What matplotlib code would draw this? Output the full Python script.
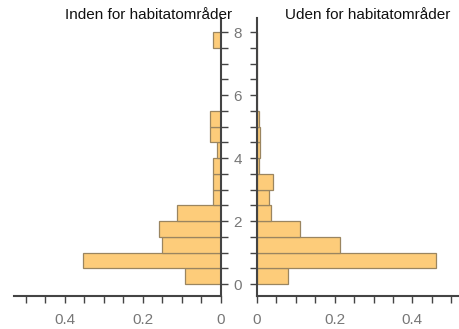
import numpy as np
import matplotlib
matplotlib.use('Agg')
import matplotlib.pyplot as plt
from matplotlib.ticker import MultipleLocator, FuncFormatter

# bin edges (0.5 wide) and relative frequencies
bin_edges = np.arange(0, 8.5, 0.5)
inside = [0.092, 0.353, 0.150, 0.159, 0.112, 0.020, 0.020, 0.020,
          0.011, 0.028, 0.028, 0, 0, 0, 0, 0.021]
outside = [0.081, 0.460, 0.213, 0.110, 0.037, 0.031, 0.040, 0.004,
           0.008, 0.008, 0.004, 0, 0, 0, 0, 0]
titles = ['Inden for habitatområder', 'Uden for habitatområder']

plt.rcParams['font.family'] = ['Liberation Sans', 'DejaVu Sans']

face = '#fdcc7a'
edge = '#9a8560'
spine_col = '#444444'
lab_col = '#777777'

fig = plt.figure(figsize=(4.59, 3.29), dpi=100)
ax_l = fig.add_axes([14/459, 1-296/329, (221-14)/459, (296-18)/329])
ax_r = fig.add_axes([257/459, 1-296/329, (459-257)/459, (296-18)/329])

lefts = bin_edges[:-1]
h = 0.5
ax_l.barh(lefts, inside, height=h, align='edge', color=face, edgecolor=edge, linewidth=0.9)
ax_r.barh(lefts, outside, height=h, align='edge', color=face, edgecolor=edge, linewidth=0.9)

ax_l.set_xlim(0.53, 0)
ax_r.set_xlim(0, 0.52)
for ax in (ax_l, ax_r):
    ax.set_ylim(-0.38, 8.45)
    ax.patch.set_alpha(0)
    for s in ('top',):
        ax.spines[s].set_visible(False)
    ax.xaxis.set_major_locator(MultipleLocator(0.2))
    ax.xaxis.set_minor_locator(MultipleLocator(0.05))
    ax.yaxis.set_major_locator(MultipleLocator(2))
    ax.yaxis.set_minor_locator(MultipleLocator(0.5))
    ax.xaxis.set_major_formatter(FuncFormatter(lambda v, p: '0' if abs(v) < 1e-9 else f'{v:.1f}'))
    ax.tick_params(which='both', length=5, width=1, color=spine_col,
                   labelcolor=lab_col, labelsize=11)
    ax.tick_params(axis='x', which='both', pad=7)

ax_l.spines['left'].set_visible(False)
ax_l.spines['right'].set_color(spine_col)
ax_l.spines['right'].set_linewidth(1.5)
ax_l.spines['bottom'].set_color(spine_col)
ax_l.spines['bottom'].set_linewidth(1.5)
ax_l.yaxis.tick_right()
ax_l.tick_params(axis='y', which='both', pad=4)

ax_r.spines['right'].set_visible(False)
ax_r.spines['left'].set_color(spine_col)
ax_r.spines['left'].set_linewidth(1.5)
ax_r.spines['bottom'].set_color(spine_col)
ax_r.spines['bottom'].set_linewidth(1.5)
ax_r.tick_params(axis='y', which='both', labelleft=False)

fig.text(232/459, 1-8/329, titles[0], ha='right', va='top', fontsize=11, color='#111111')
fig.text(285/459, 1-8/329, titles[1], ha='left', va='top', fontsize=11, color='#111111')

fig.savefig('out.png', dpi=100)
